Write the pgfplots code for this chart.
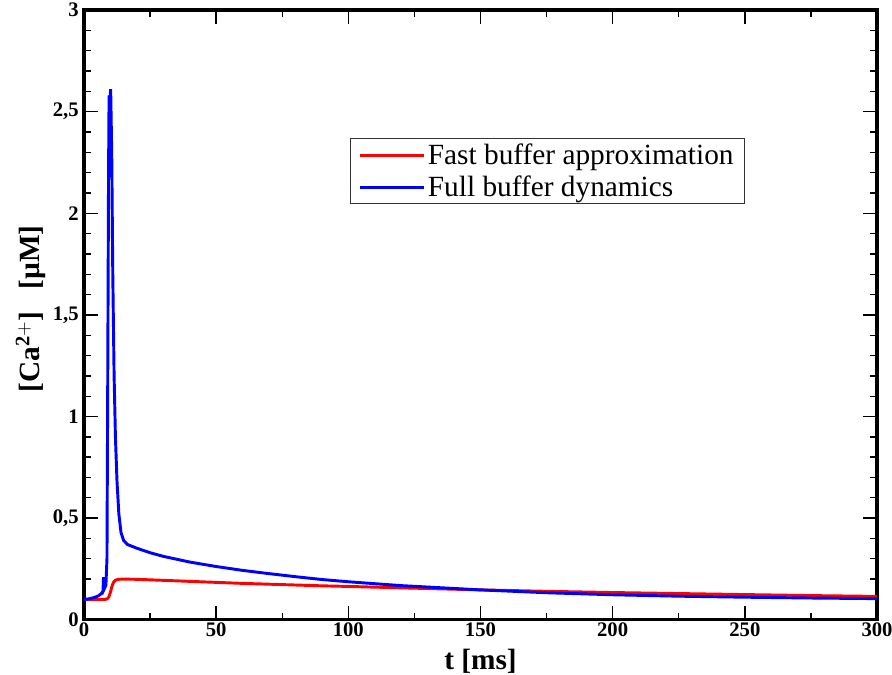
\documentclass[border=0pt]{standalone}
\usepackage{fontspec}
\setmainfont{Liberation Serif}
\usepackage{pgfplots}
\pgfplotsset{compat=1.18}
\begin{document}
\begin{tikzpicture}
\begin{axis}[
  name=main,
  scale only axis,
  width=595pt, height=457.5pt,
  xmin=0, xmax=300, ymin=0, ymax=3,
  xtick={0,50,...,300}, minor xtick={25,75,...,275},
  ytick={0,0.5,...,3}, minor ytick={0.1,0.2,...,2.9},
  tick align=inside, ticks=both,
  major tick length=10.5pt, minor tick length=5.25pt,
  every tick/.style={black, line width=1pt},
  axis line style={line width=2.5pt},
  /pgf/number format/assume math mode=true,
  /pgf/number format/use comma,
  tick label style={font=\bfseries\fontsize{15.5}{17}\selectfont},
  xticklabel style={yshift=1pt},
  yticklabel style={xshift=-0.5pt},
  xlabel={\textbf{t [ms]}},
  ylabel={\textbf{[Ca$^{\mathbf{2+}}$]\ \ \ [µM]}},
  label style={font=\fontsize{22}{24}\selectfont},
  xlabel style={at={(axis description cs:0.5,-0.0678)}, anchor=center},
  ylabel style={at={(axis description cs:-0.0672,0.51)}, anchor=center},
  legend style={at={(0.3354,0.79)}, anchor=north west, draw=black!80, line width=0.6pt,
    font=\fontsize{22}{24}\selectfont, inner xsep=6pt, inner ysep=2pt, row sep=3pt},
  legend cell align=left,
  legend image code/.code={\draw[#1, line width=2.2pt] (0pt,0pt) -- (39pt,0pt);
    \path (0pt,0pt) -- (48pt,0pt);},
]
\addplot[red, line width=2.2pt] coordinates {
(0,0.100) (4,0.100) (8,0.100) (8.8,0.103) (9.4,0.112) (10,0.135) (10.6,0.165)
(11.2,0.185) (12,0.195) (13,0.199) (15,0.200) (20,0.199) (30,0.194) (40,0.189)
(50,0.184) (60,0.179) (70,0.175) (80,0.171) (90,0.167) (100,0.164) (120,0.157)
(150,0.147) (175,0.140) (200,0.134) (225,0.129) (250,0.124) (275,0.119) (300,0.115)};
\addplot[blue, line width=2.2pt] coordinates {
(0,0.100) (2,0.103) (4,0.110) (5.5,0.118) (6.5,0.128) (7.2,0.140) (7.4,0.21) (7.6,0.15)
(8.3,0.17) (8.7,0.30) (9.0,1.20) (9.3,2.20) (9.5,2.58) (9.8,2.55) (10.1,2.61)
(10.5,2.30) (10.9,1.70) (11.4,1.20) (11.9,0.90) (12.5,0.68) (13.2,0.52) (14.0,0.43)
(15.0,0.39) (16.5,0.370) (20,0.352) (25,0.330) (30,0.312) (40,0.284) (50,0.262)
(60,0.243) (70,0.227) (80,0.212) (90,0.198) (100,0.187) (120,0.168) (150,0.147)
(175,0.133) (200,0.123) (225,0.116) (250,0.111) (275,0.107) (300,0.104)};
\legend{Fast buffer approximation, Full buffer dynamics}
\end{axis}
\pgfresetboundingbox
\path[use as bounding box] ([shift={(-63pt,-41.25pt)}]main.south west) rectangle ([shift={(11.25pt,7.5pt)}]main.north east);
\end{tikzpicture}
\end{document}
